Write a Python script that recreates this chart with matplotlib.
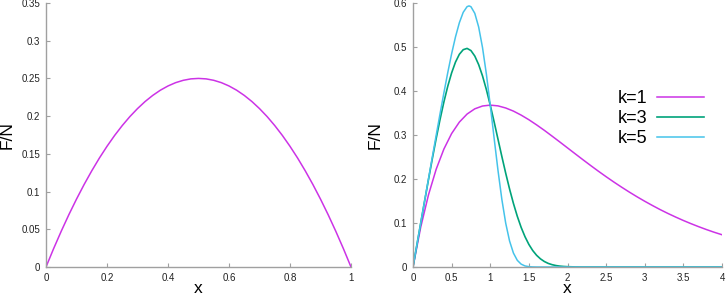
import matplotlib
matplotlib.use("Agg")
import matplotlib.pyplot as plt
from matplotlib.ticker import FuncFormatter

plt.rcParams['font.family'] = ['Liberation Sans', 'DejaVu Sans']

# ---- Left panel data ----
x_left = [0.0, 0.025, 0.05, 0.075, 0.1, 0.125, 0.15, 0.175, 0.2, 0.225, 0.25,
          0.275, 0.3, 0.325, 0.35, 0.375, 0.4, 0.425, 0.45, 0.475, 0.5,
          0.525, 0.55, 0.575, 0.6, 0.625, 0.65, 0.675, 0.7, 0.725, 0.75,
          0.775, 0.8, 0.825, 0.85, 0.875, 0.9, 0.925, 0.95, 0.975, 1.0]
y_left = [0.0, 0.0244, 0.0475, 0.0694, 0.09, 0.1094, 0.1275, 0.1444, 0.16, 0.1744, 0.1875,
          0.1994, 0.21, 0.2194, 0.2275, 0.2344, 0.24, 0.2444, 0.2475, 0.2494, 0.25,
          0.2494, 0.2475, 0.2444, 0.24, 0.2344, 0.2275, 0.2194, 0.21, 0.1994, 0.1875,
          0.1744, 0.16, 0.1444, 0.1275, 0.1094, 0.09, 0.0694, 0.0475, 0.0244, 0.0]

# ---- Right panel data ----
x_k1 = [0.0, 0.1, 0.2, 0.3, 0.4, 0.5, 0.6, 0.7, 0.8, 0.9, 1.0,
        1.1, 1.2, 1.3, 1.4, 1.5, 1.6, 1.7, 1.8, 1.9, 2.0,
        2.1, 2.2, 2.3, 2.4, 2.5, 2.6, 2.7, 2.8, 2.9, 3.0,
        3.1, 3.2, 3.3, 3.4, 3.5, 3.6, 3.7, 3.8, 3.9, 4.0]
y_k1 = [0.0, 0.0905, 0.1637, 0.2222, 0.2681, 0.3033, 0.3293, 0.3476, 0.3595, 0.3659, 0.3679,
        0.3662, 0.3614, 0.3543, 0.3452, 0.3347, 0.3230, 0.3106, 0.2975, 0.2842, 0.2707,
        0.2572, 0.2438, 0.2306, 0.2177, 0.2052, 0.1931, 0.1815, 0.1703, 0.1596, 0.1494,
        0.1397, 0.1304, 0.1217, 0.1135, 0.1057, 0.0984, 0.0915, 0.0850, 0.0789, 0.0733]

x_k3 = [0.0, 0.05, 0.1, 0.15, 0.2, 0.25, 0.3, 0.35, 0.4, 0.45, 0.5,
        0.55, 0.6, 0.65, 0.7, 0.75, 0.8, 0.85, 0.9, 0.95, 1.0,
        1.05, 1.1, 1.15, 1.2, 1.25, 1.3, 1.35, 1.4, 1.45, 1.5,
        1.55, 1.6, 1.65, 1.7, 1.75, 1.8, 1.85, 1.9, 1.95, 2.0,
        2.1, 2.2, 4.0]
y_k3 = [0.0, 0.0500, 0.0999, 0.1495, 0.1984, 0.2461, 0.2920, 0.3353, 0.3752, 0.4108, 0.4412,
        0.4657, 0.4834, 0.4939, 0.4968, 0.4919, 0.4794, 0.4599, 0.4342, 0.4031, 0.3679,
        0.3300, 0.2906, 0.2513, 0.2132, 0.1773, 0.1445, 0.1153, 0.0900, 0.0688, 0.0513,
        0.0374, 0.0266, 0.0185, 0.0125, 0.0082, 0.0053, 0.0033, 0.0020, 0.0012, 0.0007,
        0.0002, 0.0, 0.0]

x_k5 = [0.0, 0.05, 0.1, 0.15, 0.2, 0.25, 0.3, 0.35, 0.4, 0.45, 0.5,
        0.55, 0.6, 0.65, 0.7, 0.725, 0.75, 0.8, 0.85, 0.9, 0.95, 1.0,
        1.05, 1.1, 1.15, 1.2, 1.25, 1.3, 1.35, 1.4, 1.45, 1.5,
        1.55, 1.6, 4.0]
y_k5 = [0.0, 0.0500, 0.1000, 0.1500, 0.1999, 0.2498, 0.2993, 0.3482, 0.3959, 0.4418, 0.4846,
        0.5230, 0.5551, 0.5788, 0.5917, 0.5934, 0.5916, 0.5765, 0.5454, 0.4986, 0.4382, 0.3679,
        0.2930, 0.2198, 0.1539, 0.0997, 0.0591, 0.0317, 0.0152, 0.0065, 0.0024, 0.0008,
        0.0002, 0.0, 0.0]

series_labels = ['k=1', 'k=3', 'k=5']
colors = ['#cc33e6', '#00a37a', '#45c3ea']

left_xticks = [0, 0.2, 0.4, 0.6, 0.8, 1]
left_yticks = [0, 0.05, 0.1, 0.15, 0.2, 0.25, 0.3, 0.35]
right_xticks = [0, 0.5, 1, 1.5, 2, 2.5, 3, 3.5, 4]
right_yticks = [0, 0.1, 0.2, 0.3, 0.4, 0.5, 0.6]

fig = plt.figure(figsize=(7.26, 2.95), dpi=100)
W, H = 726, 295
axL = fig.add_axes([46 / W, (H - 267) / H, (351 - 46) / W, (267 - 3) / H])
axR = fig.add_axes([413 / W, (H - 267) / H, (722 - 413) / W, (267 - 3) / H])

fmt = FuncFormatter(lambda v, p: ('%g' % round(v, 4)))
spine_col = '#a0a0a0'

def style(ax, ylabelpad):
    for s in ['top', 'right']:
        ax.spines[s].set_visible(False)
    for s in ['left', 'bottom']:
        ax.spines[s].set_color(spine_col)
        ax.spines[s].set_linewidth(1.0)
    ax.tick_params(direction='in', length=3, width=0.8, color=spine_col,
                   labelsize=7, labelcolor='#222222', pad=4)
    ax.xaxis.set_major_formatter(fmt)
    ax.yaxis.set_major_formatter(fmt)
    ax.set_xlabel('x', fontsize=12.5, labelpad=-1)
    ax.set_ylabel('F/N', fontsize=12.5, labelpad=ylabelpad)

axL.plot(x_left, y_left, color=colors[0], lw=1.1)
axL.set_xlim(0, 1)
axL.set_ylim(0, 0.35)
axL.set_xticks(left_xticks)
axL.set_yticks(left_yticks)
style(axL, 5)

axR.plot(x_k1, y_k1, color=colors[0], lw=1.1, label=series_labels[0])
axR.plot(x_k3, y_k3, color=colors[1], lw=1.2, label=series_labels[1])
axR.plot(x_k5, y_k5, color=colors[2], lw=1.1, label=series_labels[2])
axR.set_xlim(0, 4)
axR.set_ylim(0, 0.6)
axR.set_xticks(right_xticks)
axR.set_yticks(right_yticks)
style(axR, 8)

axR.legend(loc='upper right', bbox_to_anchor=((704 - 413) / (722 - 413), (267 - 90) / 264),
           frameon=False, markerfirst=False, fontsize=13, handlelength=2.6,
           handletextpad=0.55, labelspacing=0.17, borderpad=0, borderaxespad=0)

fig.savefig('out.png', dpi=100)
